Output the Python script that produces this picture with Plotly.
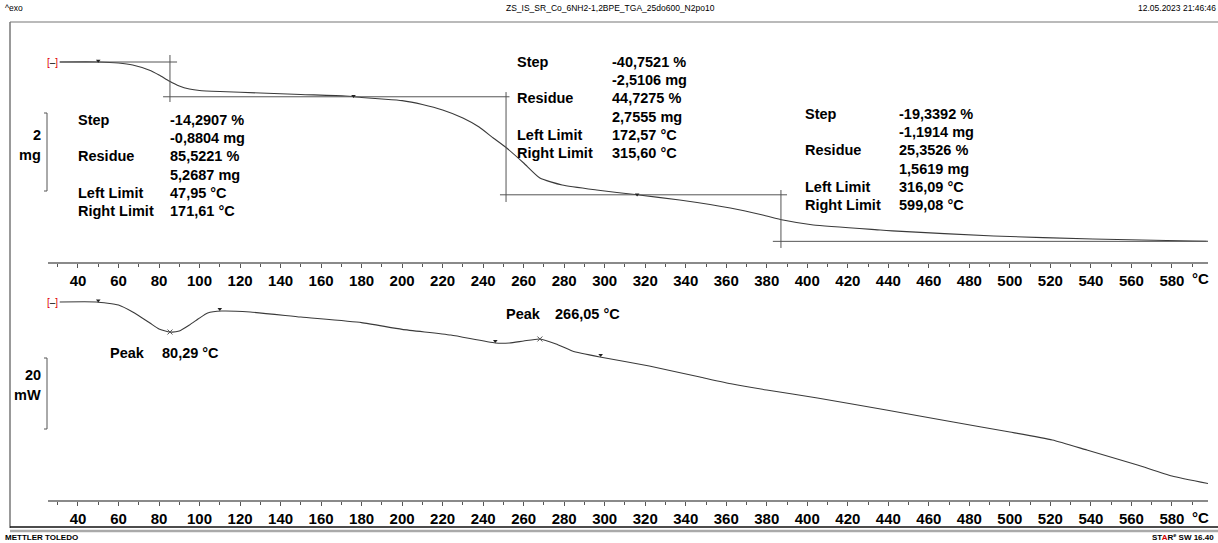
import plotly.graph_objects as go

W, H = 1218, 543

# ---------------- data ----------------
# TGA curve: temperature (°C) vs mass (mg)
tga_T = [31, 50, 60, 67, 75, 80, 85, 90, 95, 100, 110, 130, 150, 172, 180, 190, 200,
         210, 220, 230, 238, 245, 251, 260, 268, 279, 296, 316, 337, 362, 378, 388, 403,
         436, 442, 492, 541, 590, 599]
tga_mg = [6.161, 6.161, 6.135, 6.084, 5.955, 5.827, 5.673, 5.545, 5.468, 5.430, 5.404,
          5.366, 5.327, 5.289, 5.250, 5.212, 5.170, 5.070, 4.930, 4.725, 4.494, 4.212,
          3.981, 3.571, 3.186, 3.007, 2.879, 2.755, 2.622, 2.417, 2.238, 2.109, 1.981,
          1.853, 1.830, 1.699, 1.622, 1.570, 1.562]

# DSC curve: temperature (°C) vs heat flow (mW, relative, exo up)
dsc_T = [31, 49, 60, 67, 75.5, 80, 85.4, 90, 95, 100, 104, 111, 125, 150, 180, 200,
         224, 246, 253, 260, 268, 276, 284, 297.6, 322, 347, 363, 380, 405, 439, 472,
         500, 521, 538, 563, 580, 599]
dsc_mW = [0, 0, -0.85, -2.82, -5.92, -7.6, -8.45, -8.17, -6.48, -4.51, -3.10, -2.54,
          -2.82, -4.23, -5.80, -7.70, -9.30, -11.55, -11.55, -10.99, -10.42, -11.83,
          -13.80, -15.49, -18.03, -21.13, -23.10, -24.79, -27.04, -30.42, -33.80,
          -36.62, -38.87, -41.69, -45.92, -49.01, -51.27]

# step evaluation (mg levels, limits, tangent cross positions)
step_vert_T = [85.4, 251.3, 387.0]
step_vert_span = [(6.34, 5.135), (5.39, 2.571), (2.878, 1.392)]
hline_T = [(31, 88.9), (82, 253), (248.3, 390), (383, 597)]
hline_mg = [6.1606, 5.2687, 2.7555, 1.5619]
tga_limit_T = [50, 176, 316, 599]
tga_limit_mg = [6.19, 5.29, 2.76, 1.57]

peaks_T = [85.4, 268]
peaks_mW = [-8.45, -10.42]
dsc_limit_T = [50, 110, 246, 298]
dsc_limit_mW = [0.4, -2.0, -11.0, -14.9]

tick_vals = list(range(40, 600, 20))

step_blocks = [
    (["Step", "", "Residue", "", "Left Limit", "Right Limit"],
     ["-14,2907 %", "-0,8804 mg", "85,5221 %", "5,2687 mg", "47,95 °C", "171,61 °C"]),
    (["Step", "", "Residue", "", "Left Limit", "Right Limit"],
     ["-40,7521 %", "-2,5106 mg", "44,7275 %", "2,7555 mg", "172,57 °C", "315,60 °C"]),
    (["Step", "", "Residue", "", "Left Limit", "Right Limit"],
     ["-19,3392 %", "-1,1914 mg", "25,3526 %", "1,5619 mg", "316,09 °C", "599,08 °C"]),
]

# ---------------- layout helpers ----------------
def fx(x):
    return x / W

def fy(y):
    return 1 - y / H

T_MIN, T_MAX = 25.2, 597.8
TOP_RANGE = [1.0324, 7.1093]
BOT_RANGE = [-55.77, 3.38]

FONT = "Liberation Sans, Arial, sans-serif"
CURVE = "#3a3a3a"

fig = go.Figure()

# TGA curve
fig.add_trace(go.Scatter(x=tga_T, y=tga_mg, mode="lines", line=dict(color=CURVE, width=1.1, shape="spline", smoothing=0.5),
                         xaxis="x", yaxis="y", hoverinfo="skip"))
# tangent horizontals / verticals
for (t0, t1), m in zip(hline_T, hline_mg):
    fig.add_trace(go.Scatter(x=[t0, t1], y=[m, m], mode="lines", line=dict(color="#555", width=1),
                             xaxis="x", yaxis="y", hoverinfo="skip"))
for t, (a, b) in zip(step_vert_T, step_vert_span):
    fig.add_trace(go.Scatter(x=[t, t], y=[a, b], mode="lines", line=dict(color="#555", width=1),
                             xaxis="x", yaxis="y", hoverinfo="skip"))
fig.add_trace(go.Scatter(x=tga_limit_T, y=tga_limit_mg, mode="markers",
                         marker=dict(symbol="triangle-down", size=4, color="#222"),
                         xaxis="x", yaxis="y", hoverinfo="skip"))

# DSC curve
fig.add_trace(go.Scatter(x=dsc_T, y=dsc_mW, mode="lines", line=dict(color=CURVE, width=1.1, shape="spline", smoothing=0.5),
                         xaxis="x2", yaxis="y2", hoverinfo="skip"))
fig.add_trace(go.Scatter(x=peaks_T, y=peaks_mW, mode="markers",
                         marker=dict(symbol="x-thin", size=5, line=dict(color="#555", width=1)),
                         xaxis="x2", yaxis="y2", hoverinfo="skip"))
fig.add_trace(go.Scatter(x=dsc_limit_T, y=dsc_limit_mW, mode="markers",
                         marker=dict(symbol="triangle-down", size=4, color="#222"),
                         xaxis="x2", yaxis="y2", hoverinfo="skip"))

axis_common = dict(range=[T_MIN, T_MAX], domain=[fx(48), fx(1208)], showline=True, linecolor="#8a8a8a",
                   linewidth=1.5, showgrid=False, zeroline=False, ticks="outside", ticklen=4,
                   tickcolor="#555", tickwidth=1, tickvals=tick_vals,
                   ticktext=[str(v) for v in tick_vals],
                   tickfont=dict(family=FONT, size=15, color="black", weight="bold"),
                   minor=dict(dtick=10, tick0=0, ticks="outside", ticklen=3, tickcolor="#555"))

fig.update_layout(
    width=W, height=H, margin=dict(l=0, r=0, t=0, b=0),
    paper_bgcolor="white", plot_bgcolor="white", showlegend=False,
    xaxis=dict(anchor="y", **axis_common),
    xaxis2=dict(anchor="y2", **axis_common),
    yaxis=dict(domain=[fy(262), fy(25)], range=TOP_RANGE, visible=False),
    yaxis2=dict(domain=[fy(500), fy(290)], range=BOT_RANGE, visible=False),
)

ann = []
def txt(x, y, s, size=14, anchor="left", bold=True, color="black", yanchor="middle"):
    ann.append(dict(x=fx(x), y=fy(y), xref="paper", yref="paper", text=s, showarrow=False,
                    xanchor=anchor, yanchor=yanchor, borderpad=0,
                    font=dict(family=FONT, size=size, color=color, weight="bold" if bold else "normal")))

# step text blocks
block_pos = [(77, 169, 120), (516, 611, 62), (804, 898, 114)]
for (labels, values), (xl, xv, y0) in zip(step_blocks, block_pos):
    for i, (l, v) in enumerate(zip(labels, values)):
        yy = y0 + i * 18.2
        if l:
            txt(xl, yy, l, size=14.5)
        txt(xv, yy, v, size=14.5)

# peak texts
txt(109, 353, "Peak", size=14.5)
txt(161, 353, "80,29 °C", size=14.5)
txt(505, 314, "Peak", size=14.5)
txt(554, 314, "266,05 °C", size=14.5)

# unit labels for scale bars
txt(42, 135, "2", anchor="right", size=14.5)
txt(42, 155, "mg", anchor="right", size=14.5)
txt(42, 375, "20", anchor="right", size=14.5)
txt(42, 395, "mW", anchor="right", size=14.5)

# °C labels at axis ends
txt(1200, 278, "°C", anchor="center", size=15)
txt(1200, 517, "°C", anchor="center", size=15)

# red start brackets
txt(52, 62, "<span style='color:#e00000'>[</span>–<span style='color:#e00000'>]</span>", size=10, anchor="center", bold=False)
txt(52, 302, "<span style='color:#e00000'>[</span>–<span style='color:#e00000'>]</span>", size=10, anchor="center", bold=False)

# header / footer
txt(4, 8, "^exo", size=8.5, bold=False)
txt(610, 8, "ZS_IS_SR_Co_6NH2-1,2BPE_TGA_25do600_N2po10", size=8.5, anchor="center", bold=False)
txt(1217, 8, "12.05.2023 21:46:46", size=8.5, anchor="right", bold=False)
txt(4, 537, "METTLER TOLEDO", size=8)
txt(1215, 537, "ST<span style='color:#d00000'>A</span>R<sup>e</sup> SW 16.40", size=8, anchor="right")

fig.update_layout(annotations=ann)

shapes = []
def line(x0, y0, x1, y1, color="#555", width=1):
    shapes.append(dict(type="line", xref="paper", yref="paper", x0=fx(x0), y0=fy(y0), x1=fx(x1), y1=fy(y1),
                       line=dict(color=color, width=width)))

# outer frame
line(10, 22, 1218, 22, "#777", 1.2)
line(10, 22, 10, 528, "#777", 1.5)
line(10, 527, 1218, 527, "#111", 1.5)
line(10, 531, 1218, 531, "#aaa", 2.5)
# scale-bar brackets
line(47, 113, 47, 191, "#555", 1)
line(44, 113, 47, 113, "#555", 1)
line(44, 191, 47, 191, "#555", 1)
line(47, 358, 47, 429, "#555", 1)
line(44, 358, 47, 358, "#555", 1)
line(44, 429, 47, 429, "#555", 1)

fig.update_layout(shapes=shapes)

fig.write_html("out.html", config={"displayModeBar": False},
               post_script="document.body.style.margin='0';document.body.style.overflow='hidden';")
